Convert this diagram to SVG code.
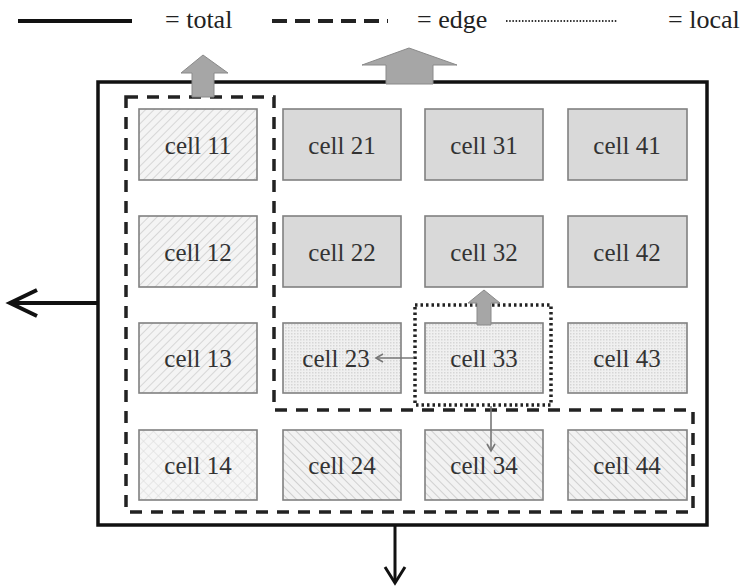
<svg xmlns="http://www.w3.org/2000/svg" width="749" height="586" viewBox="0 0 749 586">
<defs>
<pattern id="hatchA" width="6" height="6" patternUnits="userSpaceOnUse" patternTransform="rotate(45)">
<rect width="6" height="6" fill="#f4f4f4"/>
<line x1="0" y1="0" x2="0" y2="6" stroke="#cfcfcf" stroke-width="1.6"/>
</pattern>
<pattern id="hatchB" width="6" height="6" patternUnits="userSpaceOnUse" patternTransform="rotate(-45)">
<rect width="6" height="6" fill="#f2f2f2"/>
<line x1="0" y1="0" x2="0" y2="6" stroke="#c8c8c8" stroke-width="1.6"/>
</pattern>
<pattern id="cross" width="7" height="7" patternUnits="userSpaceOnUse" patternTransform="rotate(45)">
<rect width="7" height="7" fill="#f6f6f6"/>
<line x1="0" y1="0" x2="0" y2="7" stroke="#dcdcdc" stroke-width="1.2"/>
<line x1="0" y1="0" x2="7" y2="0" stroke="#dcdcdc" stroke-width="1.2"/>
</pattern>
<pattern id="dots" width="3" height="3" patternUnits="userSpaceOnUse">
<rect width="3" height="3" fill="#f0f0f0"/>
<rect width="1.5" height="1.5" fill="#d6d6d6"/>
</pattern>
</defs>
<style>
.cell rect{stroke:#808080;stroke-width:1.6}
.solid{fill:#d9d9d9}
.ha{fill:url(#hatchA)}
.hb{fill:url(#hatchB)}
.cr{fill:url(#cross)}
.dt{fill:url(#dots)}
text{font-family:'Liberation Serif','DejaVu Serif',serif;font-size:25px;fill:#333;text-anchor:middle}
.leg{text-anchor:start;fill:#222;font-size:26px}
.block{fill:#a6a6a6;stroke:#8a8a8a;stroke-width:1}
.thin{stroke:#777;stroke-width:1.6;fill:none}
</style>
<rect width="749" height="586" fill="#fff"/>
<g id="legend">
<line x1="18" y1="21" x2="132" y2="21" stroke="#111" stroke-width="4"/>
<text class="leg" x="165" y="28">= total</text>
<line x1="272" y1="21" x2="388" y2="21" stroke="#222" stroke-width="4" stroke-dasharray="15 8"/>
<text class="leg" x="417" y="28">= edge</text>
<line x1="506" y1="21" x2="617" y2="21" stroke="#333" stroke-width="2" stroke-dasharray="1.5 1.7"/>
<text class="leg" x="668" y="28">= local</text>
</g>
<g id="total">
<rect x="98" y="82" width="609" height="443" fill="none" stroke="#111" stroke-width="3.5"/>
</g>
<g id="cell11" class="cell"><rect class="ha" x="139" y="109" width="118" height="71"/><text x="198" y="154">cell 11</text></g>
<g id="cell21" class="cell"><rect class="solid" x="283" y="109" width="118" height="71"/><text x="342" y="154">cell 21</text></g>
<g id="cell31" class="cell"><rect class="solid" x="425" y="109" width="118" height="71"/><text x="484" y="154">cell 31</text></g>
<g id="cell41" class="cell"><rect class="solid" x="568" y="109" width="119" height="71"/><text x="627" y="154">cell 41</text></g>
<g id="cell12" class="cell"><rect class="ha" x="139" y="216" width="118" height="71"/><text x="198" y="261">cell 12</text></g>
<g id="cell22" class="cell"><rect class="solid" x="283" y="216" width="118" height="71"/><text x="342" y="261">cell 22</text></g>
<g id="cell32" class="cell"><rect class="solid" x="425" y="216" width="118" height="71"/><text x="484" y="261">cell 32</text></g>
<g id="cell42" class="cell"><rect class="solid" x="568" y="216" width="119" height="71"/><text x="627" y="261">cell 42</text></g>
<g id="cell13" class="cell"><rect class="ha" x="139" y="323" width="118" height="70"/><text x="198" y="367">cell 13</text></g>
<g id="cell23" class="cell"><rect class="dt" x="283" y="323" width="118" height="70"/><text x="336" y="367">cell 23</text></g>
<g id="cell33" class="cell"><rect class="dt" x="425" y="323" width="118" height="70"/><text x="484" y="367">cell 33</text></g>
<g id="cell43" class="cell"><rect class="dt" x="568" y="323" width="119" height="70"/><text x="627" y="367">cell 43</text></g>
<g id="cell14" class="cell"><rect class="cr" x="139" y="430" width="118" height="70"/><text x="198" y="474">cell 14</text></g>
<g id="cell24" class="cell"><rect class="hb" x="283" y="430" width="118" height="70"/><text x="342" y="474">cell 24</text></g>
<g id="cell34" class="cell"><rect class="hb" x="425" y="430" width="118" height="70"/><text x="484" y="474">cell 34</text></g>
<g id="cell44" class="cell"><rect class="hb" x="568" y="430" width="119" height="70"/><text x="627" y="474">cell 44</text></g>
<g id="edge">
<path d="M126,97 H274 V410 H693 V512 H126 Z" fill="none" stroke="#222" stroke-width="3.5" stroke-dasharray="12 9"/>
</g>
<g id="local">
<rect x="415" y="305" width="136" height="100" fill="none" stroke="#222" stroke-width="3.5" stroke-dasharray="2.5 3"/>
</g>
<g id="connectors">
<polyline points="98,303 12,303" fill="none" stroke="#111" stroke-width="4"/>
<polyline points="37,290 10,303 37,316" fill="none" stroke="#111" stroke-width="4" stroke-linejoin="miter"/>
<line x1="395" y1="525" x2="395" y2="582" stroke="#111" stroke-width="3"/>
<polyline points="385,567 395,583 405,567" fill="none" stroke="#111" stroke-width="3"/>
<polygon class="block" points="192,97 192,73 181,73 203,55 228,73 214,73 214,97"/>
<polygon class="block" points="386,84 386,65 362,65 409,48 457,65 433,65 433,84"/>
<polygon class="block" points="477,325 477,303 468,303 484,290 500,303 491,303 491,325"/>
<line class="thin" x1="414" y1="358" x2="376" y2="358"/>
<polyline class="thin" points="383,354 376,358 383,362"/>
<line class="thin" x1="491" y1="406" x2="491" y2="451"/>
<polyline class="thin" points="487,444 491,451 495,444"/>
</g>
</svg>
